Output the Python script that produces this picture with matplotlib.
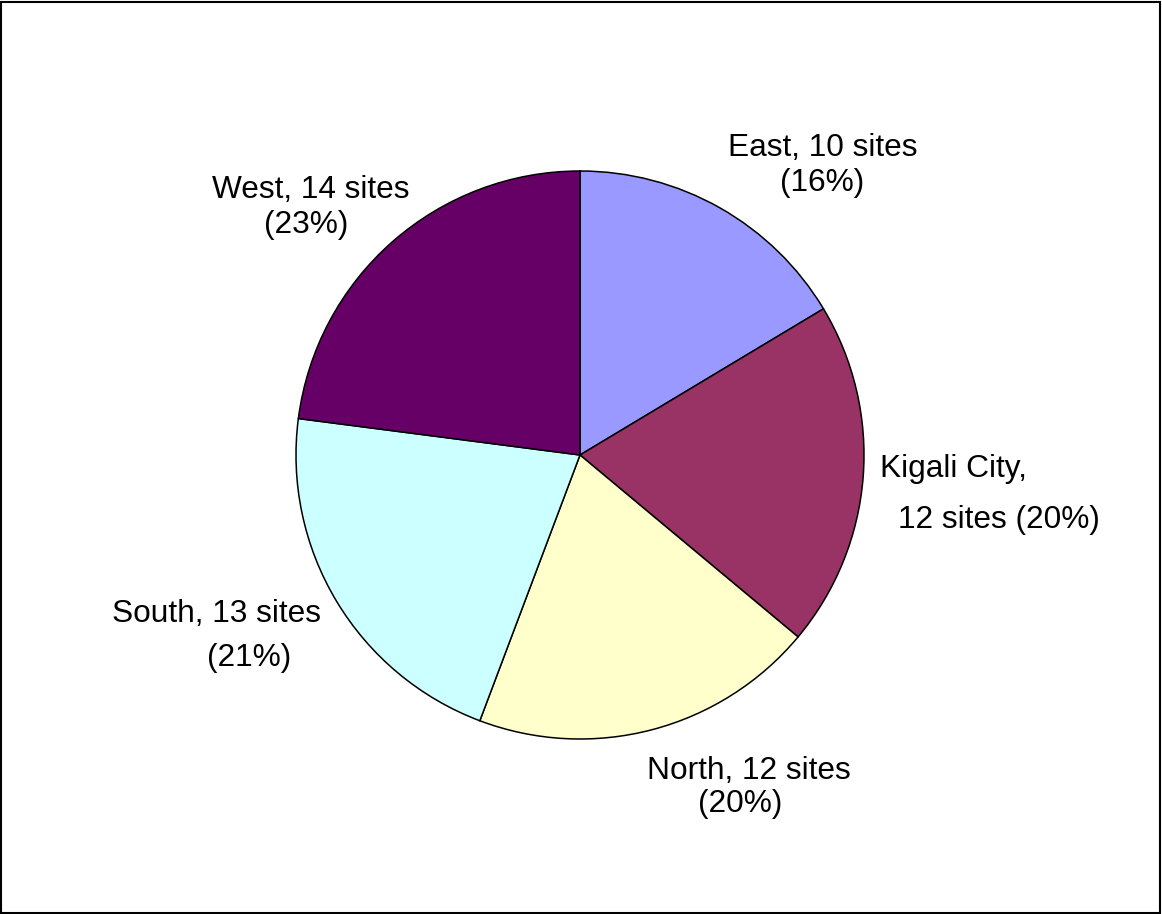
import matplotlib.pyplot as plt
from matplotlib.patches import Rectangle

plt.rcParams['font.family'] = ['Liberation Sans', 'DejaVu Sans']

regions = ["East", "Kigali City", "North", "South", "West"]
sites = [10, 12, 12, 13, 14]
colors = ["#9999FF", "#993366", "#FFFFCC", "#CCFFFF", "#660066"]

W, H = 1162, 914
fig = plt.figure(figsize=(W / 100, H / 100), dpi=100)

# pie centre and radius in pixels
cx, cy, r = 580, 455, 284
ax = fig.add_axes([(cx - r) / W, (H - cy - r) / H, 2 * r / W, 2 * r / H])
ax.pie(sites, colors=colors, startangle=90, counterclock=False,
       wedgeprops=dict(edgecolor="black", linewidth=1.1))
ax.set_xlim(-1, 1)
ax.set_ylim(-1, 1)
ax.set_aspect("equal")
ax.axis("off")

total = sum(sites)
pct = [round(100 * s / total) for s in sites]


def label(x, y, s, ha="center"):
    fig.text(x / W, 1 - (y + 3) / H, s, ha=ha, va="center", fontsize=22.8)


label(823, 145, f"{regions[0]}, {sites[0]} sites")
label(822, 180, f"({pct[0]}%)")
label(880, 466, f"{regions[1]},", ha="left")
label(898, 517, f"{sites[1]} sites ({pct[1]}%)", ha="left")
label(749, 768, f"{regions[2]}, {sites[2]} sites")
label(740, 801, f"({pct[2]}%)")
label(217, 611, f"{regions[3]}, {sites[3]} sites")
label(249, 655, f"({pct[3]}%)")
label(311, 187, f"{regions[4]}, {sites[4]} sites")
label(306, 222, f"({pct[4]}%)")

fig.patches.append(Rectangle((1 / W, 1 / H), 1 - 3 / W, 1 - 3 / H,
                             transform=fig.transFigure, fill=False,
                             edgecolor="black", linewidth=1.5))

fig.savefig("out.png", dpi=100)
